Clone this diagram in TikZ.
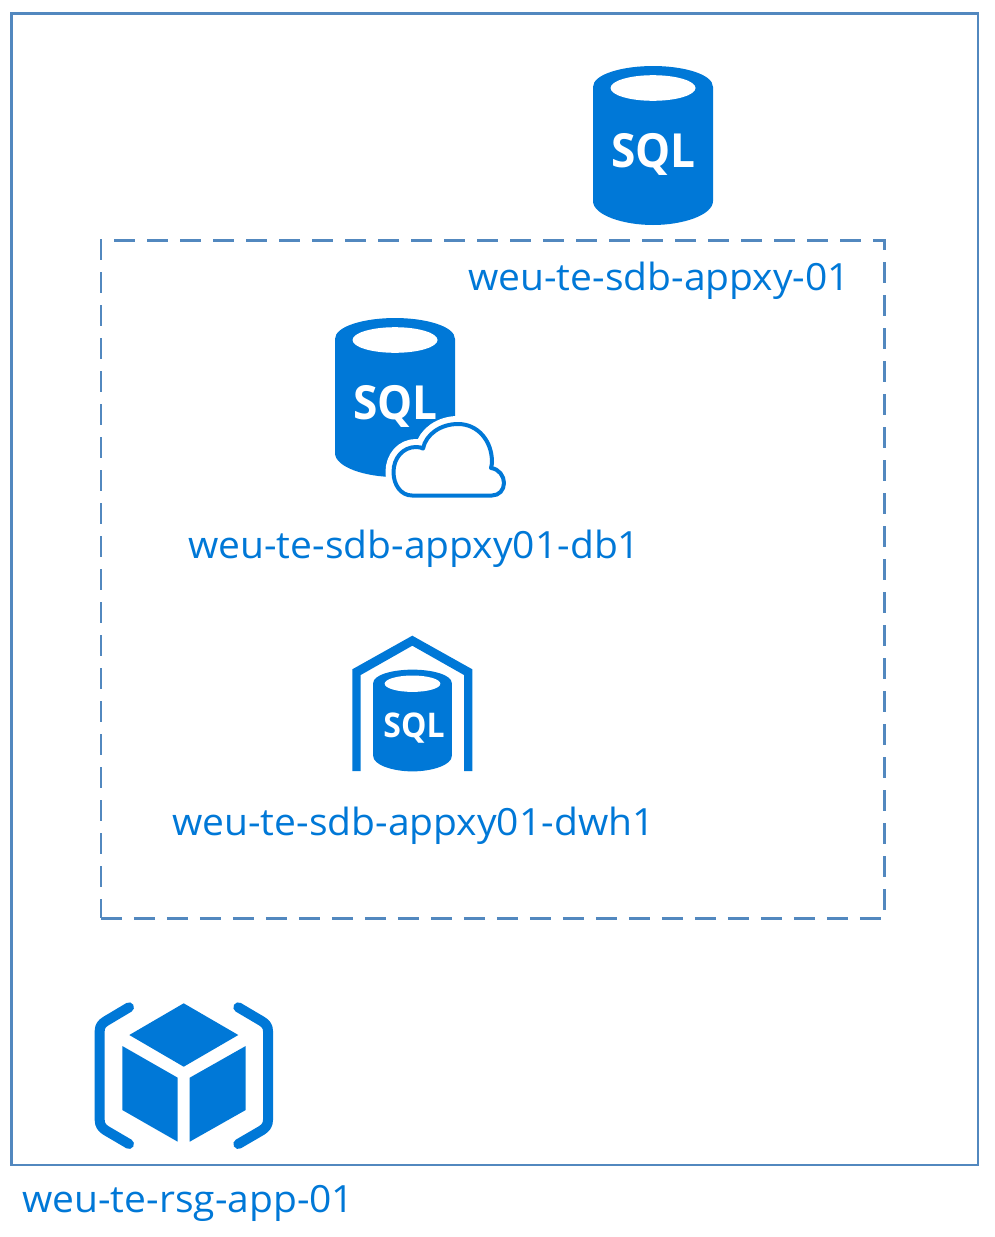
\documentclass[tikz,border=0pt]{standalone}
\usepackage{fontspec}
\setmainfont{Open Sans}
\newfontfamily\labelface[FakeStretch=1.04]{Open Sans}
\definecolor{azure}{HTML}{0078D7}
\definecolor{frameblue}{HTML}{5288BF}
\tikzset{
  x=1pt,y=-1pt,
  label text/.style={inner sep=0pt,text=azure,font=\labelface\fontsize{37.5}{42}\selectfont,anchor=base west},
  sql text/.style={inner sep=0pt,text=white,font=\fontsize{#1}{#1}\selectfont\bfseries,transform shape,xscale=.94},
  frame line/.style={draw=frameblue,line width=2.3pt},
  bracket line/.style={draw=azure,line width=10pt,line cap=round,line join=round},
  pics/sqlcyl/.style={code={
    \fill[azure] (-60,-1) .. controls (-60,-14) and (-30,-22) .. (0,-22)
      .. controls (30,-22) and (60,-14) .. (60,-1)
      -- (60,113) .. controls (60,127) and (30,137) .. (0,137)
      .. controls (-30,137) and (-60,127) .. (-60,113) -- cycle;
    \fill[white] (0,0) ellipse [x radius=42.5,y radius=12.8];
  }}
}
\begin{document}
\begin{tikzpicture}
\useasboundingbox (0,0) rectangle (995,1237);
\fill[white] (0,0) rectangle (995,1237);
\node[frame line,draw,inner sep=0pt,minimum width=966.5pt,minimum height=1151.5pt,anchor=north west] (rsg) at (10.3,12.3) {};
\node[frame line,draw,dash pattern=on 21pt off 12pt,inner sep=0pt,minimum width=783.5pt,minimum height=678pt,anchor=north west] (server) at (99.8,239.3) {};
% SQL server
\pic at (653,88) {sqlcyl};
\node[sql text=47] (sqlA) at (653.5,154) {SQL};
\node[label text] (lblA) at (468,290) {weu-te-sdb-appxy-01};
% SQL database
\pic at (395,340) {sqlcyl};
\node[sql text=47] (sqlB) at (395.5,406) {SQL};
\path[draw=white,line width=16pt,line join=round,fill=white]
  (412,495.5) .. controls (401,495.5) and (393.5,485) .. (393.5,472)
  .. controls (393.5,458) and (403,447) .. (416,447)
  .. controls (419,447) and (421,447.5) .. (423,448.5)
  .. controls (426,434) and (441,424) .. (458,424)
  .. controls (478,424) and (492,441) .. (492,462)
  .. controls (492,464) and (491.5,466) .. (491,468)
  .. controls (499,469) and (504,476) .. (504,483)
  .. controls (504,490) and (499,495.5) .. (492,495.5) -- cycle;
\path[draw=azure,line width=4pt,line join=round,fill=white]
  (412,495.5) .. controls (401,495.5) and (393.5,485) .. (393.5,472)
  .. controls (393.5,458) and (403,447) .. (416,447)
  .. controls (419,447) and (421,447.5) .. (423,448.5)
  .. controls (426,434) and (441,424) .. (458,424)
  .. controls (478,424) and (492,441) .. (492,462)
  .. controls (492,464) and (491.5,466) .. (491,468)
  .. controls (499,469) and (504,476) .. (504,483)
  .. controls (504,490) and (499,495.5) .. (492,495.5) -- cycle;
\node[label text] (lblB) at (188,558) {weu-te-sdb-appxy01-db1};
% SQL data warehouse
\fill[azure] (412.3,635.7) -- (472.3,669.3) -- (472.3,771) -- (464,771) -- (464,675)
  -- (412.3,645.7) -- (360.7,675) -- (360.7,771) -- (352.3,771) -- (352.3,669.3) -- cycle;
\pic[xscale=.655,yscale=.64] at (412.5,683.7) {sqlcyl};
\node[sql text=34] (sqlC) at (414,728) {SQL};
\node[label text] (lblC) at (172,835) {weu-te-sdb-appxy01-dwh1};
% Resource group
\fill[azure] (183.7,1003.3) -- (238.3,1035) -- (183.7,1066.7) -- (129.3,1035) -- cycle;
\fill[azure] (122.3,1046) -- (177.7,1077.7) -- (177.7,1141.7) -- (122.3,1110) -- cycle;
\fill[azure] (189.7,1077.7) -- (245.7,1046) -- (245.7,1110) -- (189.7,1141.7) -- cycle;
\draw[bracket line] (129,1007.3) -- (106,1021) .. controls (102,1023.5) and (99.7,1026) .. (99.7,1031)
  -- (99.7,1120) .. controls (99.7,1125) and (102,1128) .. (106,1130.5) -- (129,1144);
\draw[bracket line] (238.3,1007.3) -- (261.5,1021) .. controls (265.5,1023.5) and (268,1026) .. (268,1031)
  -- (268,1120) .. controls (268,1125) and (265.5,1128) .. (261.5,1130.5) -- (238.3,1144);
\node[label text] (lblD) at (22,1212) {weu-te-rsg-app-01};
\end{tikzpicture}
\end{document}
